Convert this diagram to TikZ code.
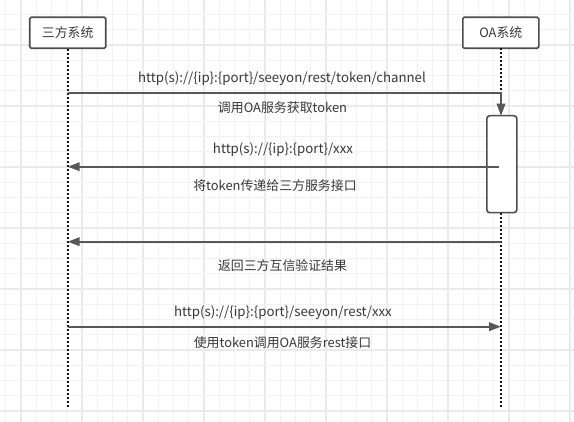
\documentclass[tikz,border=0pt]{standalone}
\usepackage{fontspec}
\setmainfont{Noto Sans CJK SC}
\usetikzlibrary{arrows.meta}
\definecolor{gridminor}{RGB}{242,242,242}
\definecolor{gridmajor}{RGB}{234,234,234}
\definecolor{linec}{RGB}{88,88,88}
\definecolor{boxc}{RGB}{77,77,77}
\definecolor{txtc}{RGB}{56,56,56}
\definecolor{lifec}{RGB}{20,20,20}
\tikzset{
  actorbox/.style={draw=boxc, line width=1.6pt, rounded corners=1.5pt, fill=white,
    minimum width=76pt, minimum height=31pt, inner sep=0pt, text=txtc, font=\fontsize{12.9}{15}\selectfont},
  actbox/.style={draw=boxc, line width=1.6pt, rounded corners=3pt, fill=white,
    minimum width=30pt, minimum height=97pt, inner sep=0pt},
  life/.style={draw=lifec, line width=2pt, dash pattern=on 2pt off 2pt},
  msg/.style={draw=linec, line width=2pt, -{Triangle[length=12pt,width=8.5pt]}},
  lbl/.style={anchor=base, inner sep=0pt, text=txtc, font=\fontsize{12.9}{15}\selectfont},
  urllbl/.style={lbl, font=\fontsize{13.25}{15}\selectfont},
  gminor/.style={draw=gridminor, line width=1pt},
  gmajor/.style={draw=gridmajor, line width=1.8pt}
}
\begin{document}
\begin{tikzpicture}[x=1pt,y=-1pt]
\useasboundingbox (0,0) rectangle (574,422);
\fill[white] (0,0) rectangle (574,422);
% grid
\foreach \i in {0,...,37} {
  \pgfmathtruncatemacro{\m}{mod(\i,4)}
  \ifnum\m=1 \draw[gmajor] ({5.75+15.25*\i},0) -- ({5.75+15.25*\i},422);
  \else \draw[gminor] ({5.75+15.25*\i},0) -- ({5.75+15.25*\i},422); \fi
}
\foreach \j in {1,...,28} {
  \pgfmathtruncatemacro{\m}{mod(\j,4)}
  \ifnum\m=3 \draw[gmajor] (0,{-0.75+15.25*\j}) -- (574,{-0.75+15.25*\j});
  \else \draw[gminor] (0,{-0.75+15.25*\j}) -- (574,{-0.75+15.25*\j}); \fi
}
% actors
\node[actorbox] (a) at (67.7,32.8) {三方系统};
\node[actorbox] (b) at (500.8,32.8) {OA系统};
% lifeline ends
\coordinate (aend) at (67.7,408);
\coordinate (btop) at (501,48.3);
\coordinate (bmid) at (501,115.7);
\coordinate (bend) at (501,408);
\coordinate (actbot) at (501,212.7);
\draw[life] (a.south) -- (aend);
\draw[life] (btop) -- (bmid);
\draw[life] (actbot) -- (bend);
\node[actbox] (act) at (501.8,164.2) {};
% message points
\coordinate (a1) at (67.7,93.3);
\coordinate (a2) at (67.7,166.7);
\coordinate (a3) at (67.7,241.7);
\coordinate (a4) at (67.7,326.7);
\coordinate (b1) at (501,93.3);
\coordinate (b1t) at (501,115.7);
\coordinate (b2) at (499,166.7);
\coordinate (b3) at (501,241.7);
\coordinate (b4) at (501,326.7);
\draw[msg] (a1) -- (b1) -- (b1t);
\draw[msg] (b2) -- (a2);
\draw[msg] (b3) -- (a3);
\draw[msg] (a4) -- (b4);
% labels
\node[urllbl] (t1) at (282,82.1) {http(s)://\{ip\}:\{port\}/seeyon/rest/token/channel};
\node[lbl] (t2) at (282.5,112.5) {调用OA服务获取token};
\node[urllbl] (t3) at (283,153.8) {http(s)://\{ip\}:\{port\}/xxx};
\node[lbl] (t4) at (275,190.5) {将token传递给三方服务接口};
\node[lbl] (t5) at (282.5,270.5) {返回三方互信验证结果};
\node[urllbl] (t6) at (283,316.5) {http(s)://\{ip\}:\{port\}/seeyon/rest/xxx};
\node[lbl] (t7) at (282.5,347.8) {使用token调用OA服务rest接口};
\end{tikzpicture}
\end{document}
